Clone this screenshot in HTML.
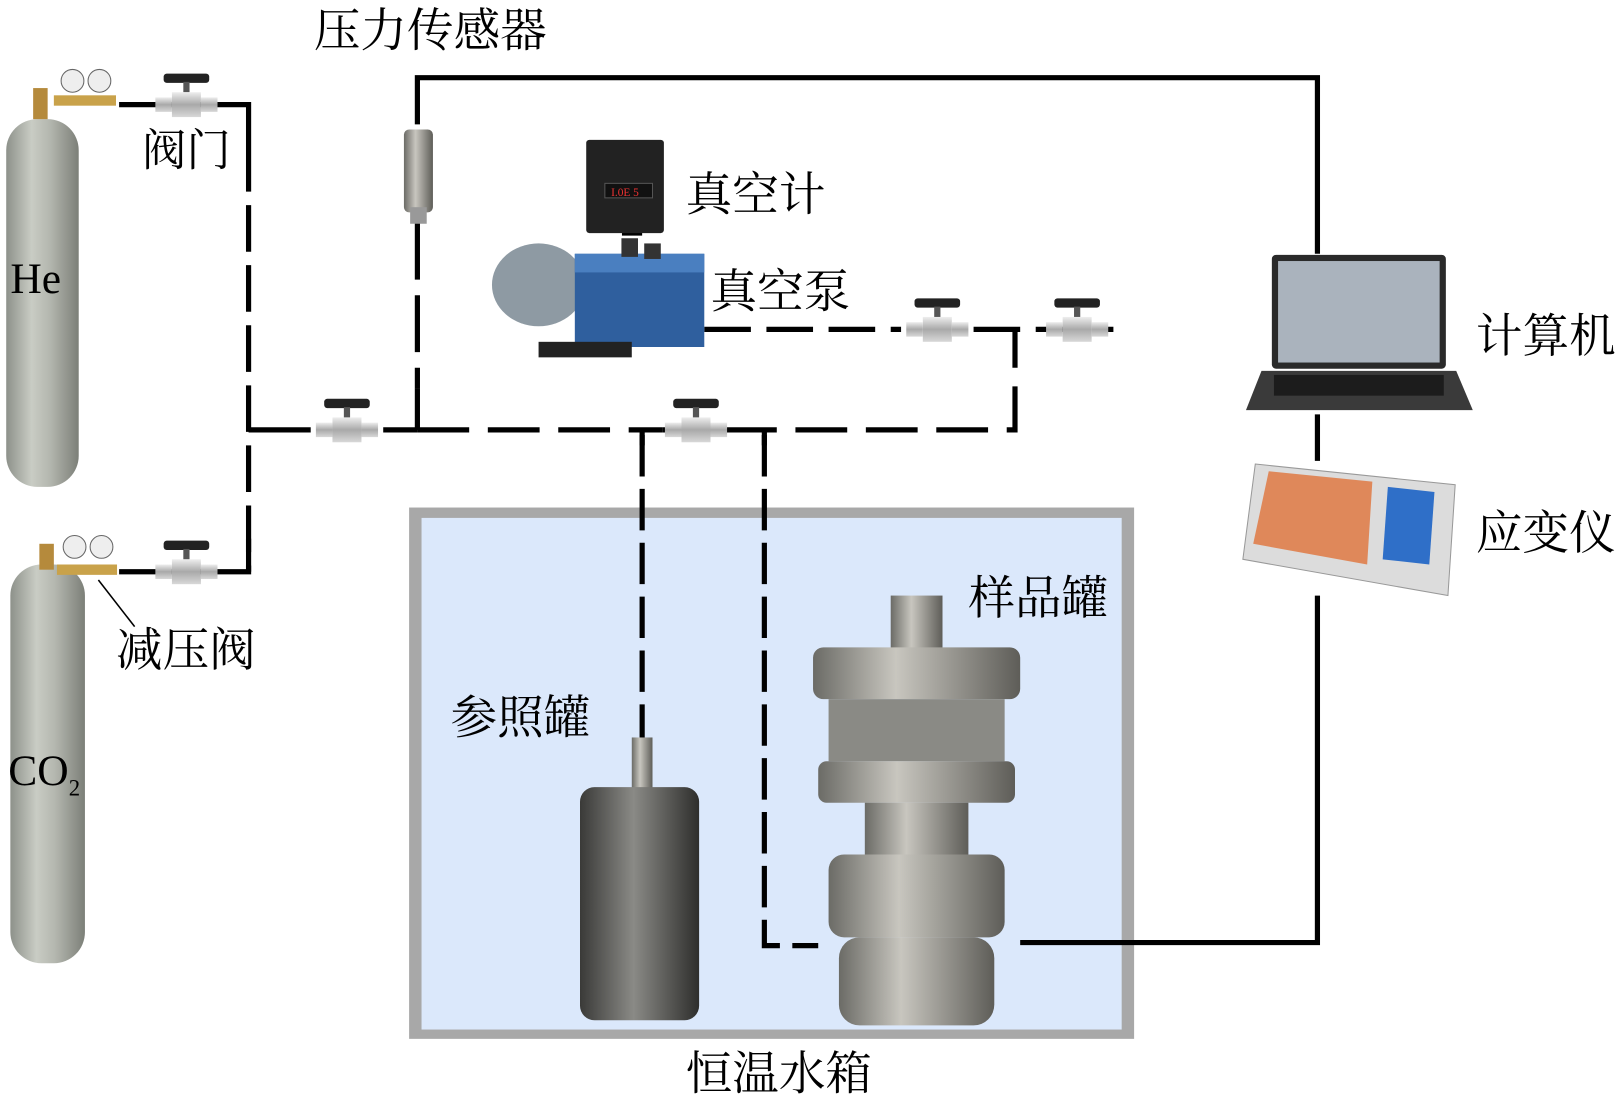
<!DOCTYPE html>
<html><head><meta charset="utf-8"><style>
html,body{margin:0;padding:0;background:#fff;width:1624px;height:1100px;overflow:hidden}
svg{display:block}
text{font-family:"Liberation Serif","Noto Serif CJK SC",serif;fill:#000}
</style></head><body>
<svg width="1624" height="1100" viewBox="0 0 1568 1062" xmlns="http://www.w3.org/2000/svg">
<defs>
<linearGradient id="cyl" x1="0" x2="1"><stop offset="0" stop-color="#8d918a"/><stop offset=".35" stop-color="#c9ccc4"/><stop offset=".6" stop-color="#b4b7af"/><stop offset="1" stop-color="#7c7f78"/></linearGradient>
<linearGradient id="met" x1="0" x2="1"><stop offset="0" stop-color="#6b6b66"/><stop offset=".4" stop-color="#c8c6bf"/><stop offset="1" stop-color="#5e5d58"/></linearGradient>
<linearGradient id="dark" x1="0" x2="1"><stop offset="0" stop-color="#3a3a38"/><stop offset=".45" stop-color="#8a8a86"/><stop offset="1" stop-color="#2e2e2c"/></linearGradient>
<linearGradient id="silv" x1="0" x2="0" y1="0" y2="1"><stop offset="0" stop-color="#eee"/><stop offset=".5" stop-color="#a9a9a9"/><stop offset="1" stop-color="#d8d8d8"/></linearGradient>
<g id="valve">
<rect x="-22" y="-30" width="44" height="9" rx="3" fill="#222"/>
<rect x="-3" y="-22" width="6" height="10" fill="#555"/>
<rect x="-14" y="-12" width="28" height="24" fill="url(#silv)"/>
<rect x="-30" y="-7" width="16" height="14" fill="url(#silv)"/>
<rect x="14" y="-7" width="16" height="14" fill="url(#silv)"/>
</g>
</defs>
<!-- water tank -->
<rect x="395" y="490" width="700" height="513" fill="#a8a8a8"/>
<rect x="407" y="500" width="676" height="494" fill="#dbe8fb"/>
<g stroke="#000" stroke-width="5" fill="none">
<path d="M403 120 V75 H1272 V245"/>
<path d="M1272 400 V445 M1272 575 V910 H985"/>
<path d="M115 101 H240 V140 M115 552 H240 V520"/>
<path d="M240 140 V552" stroke-dasharray="45 13"/>
<path d="M240 415 H300 M370 415 H403 M403 415 V375"/>
<path d="M403 215 V375" stroke-dasharray="55 15"/>
<path d="M403 415 H640 M700 415 H980 V318" stroke-dasharray="50 18"/>
<path d="M680 318 H870 M940 318 H1075" stroke-dasharray="45 15"/>
<path d="M620 420 V715 M738 420 V913 H790" stroke-dasharray="40 12"/>
<path d="M620 415 V430 M738 415 V430 M640 415 H700"/>
<path d="M603 215 V225 H620"/>
</g>
<!-- valves -->
<use href="#valve" x="180" y="101"/>
<use href="#valve" x="180" y="552"/>
<use href="#valve" x="335" y="415"/>
<use href="#valve" x="672" y="415"/>
<use href="#valve" x="905" y="318"/>
<use href="#valve" x="1040" y="318"/>
<!-- cylinders -->
<rect x="6" y="115" width="70" height="355" rx="30" fill="url(#cyl)"/>
<rect x="32" y="85" width="14" height="30" fill="#b58a3c"/>
<rect x="52" y="92" width="60" height="10" fill="#c9a24a"/>
<circle cx="70" cy="78" r="11" fill="#eee" stroke="#666"/><circle cx="96" cy="78" r="11" fill="#eee" stroke="#666"/>
<rect x="10" y="545" width="72" height="385" rx="30" fill="url(#cyl)"/>
<rect x="38" y="525" width="14" height="25" fill="#b58a3c"/>
<rect x="55" y="545" width="58" height="10" fill="#c9a24a"/>
<circle cx="72" cy="528" r="11" fill="#eee" stroke="#666"/><circle cx="98" cy="528" r="11" fill="#eee" stroke="#666"/>
<line x1="95" y1="560" x2="130" y2="605" stroke="#000" stroke-width="1.5"/>
<!-- pressure sensor -->
<rect x="390" y="125" width="28" height="80" rx="5" fill="url(#met)"/>
<rect x="396" y="200" width="16" height="16" fill="#999"/>
<!-- vacuum gauge -->
<rect x="566" y="135" width="75" height="90" rx="3" fill="#222"/>
<rect x="584" y="177" width="46" height="14" fill="#111" stroke="#555"/>
<text x="590" y="189" font-size="11" style="fill:#e33">I.0E 5</text>
<!-- pump -->
<ellipse cx="520" cy="275" rx="45" ry="40" fill="#8e9aa3"/>
<rect x="555" y="245" width="125" height="90" fill="#2f5f9e"/>
<rect x="555" y="245" width="125" height="18" fill="#4a7fc0"/>
<rect x="600" y="230" width="16" height="18" fill="#333"/><rect x="622" y="235" width="16" height="15" fill="#333"/>
<rect x="520" y="330" width="90" height="15" fill="#222"/>
<!-- laptop -->
<rect x="1228" y="246" width="168" height="110" rx="4" fill="#2a2a2a"/>
<rect x="1234" y="252" width="156" height="98" fill="#aab3bd"/>
<path d="M1218 358 H1406 L1422 396 H1203 Z" fill="#3a3a3a"/>
<rect x="1230" y="362" width="164" height="20" fill="#1c1c1c"/>
<!-- strain meter -->
<path d="M1212 448 L1405 468 L1398 575 L1200 540 Z" fill="#dcdcdc" stroke="#999"/>
<path d="M1225 455 L1325 465 L1320 545 L1210 525 Z" fill="#e0733a" opacity=".8"/>
<path d="M1340 470 L1385 475 L1380 545 L1335 540 Z" fill="#2f6fc8"/>
<!-- reference tank -->
<rect x="610" y="712" width="20" height="50" fill="url(#met)"/>
<rect x="560" y="760" width="115" height="225" rx="14" fill="url(#dark)"/>
<!-- sample tank -->
<rect x="860" y="575" width="50" height="60" fill="url(#met)"/>
<rect x="785" y="625" width="200" height="50" rx="10" fill="url(#met)"/>
<rect x="800" y="675" width="170" height="60" fill="#8a8a85"/>
<rect x="790" y="735" width="190" height="40" rx="8" fill="url(#met)"/>
<rect x="835" y="775" width="100" height="55" fill="url(#met)"/>
<rect x="800" y="825" width="170" height="80" rx="15" fill="url(#met)"/>
<rect x="810" y="905" width="150" height="85" rx="20" fill="url(#met)"/>
<!-- labels -->
<text x="303" y="45" font-size="45">压力传感器</text>
<text x="137" y="160" font-size="43">阀门</text>
<text x="10" y="283" font-size="42">He</text>
<text x="662" y="203" font-size="45">真空计</text>
<text x="686" y="297" font-size="45">真空泵</text>
<text x="1425" y="340" font-size="45">计算机</text>
<text x="1425" y="530" font-size="45">应变仪</text>
<text x="935" y="593" font-size="45">样品罐</text>
<text x="435" y="708" font-size="45">参照罐</text>
<text x="112" y="643" font-size="45">减压阀</text>
<text x="8" y="758" font-size="42">CO<tspan font-size="22" dy="10">2</tspan></text>
<text x="662" y="1052" font-size="45">恒温水箱</text>
</svg>
</body></html>
